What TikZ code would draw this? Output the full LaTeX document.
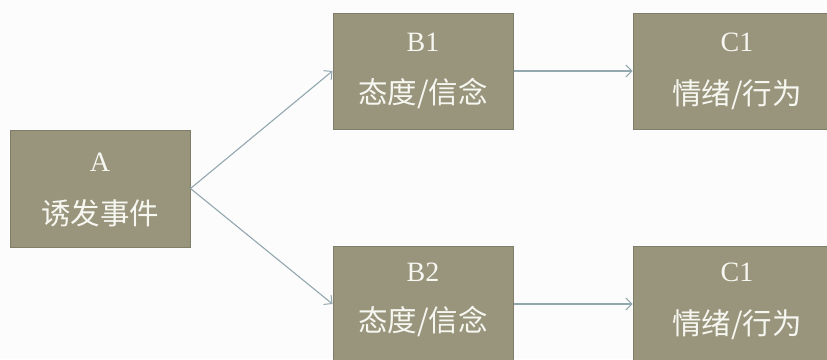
\documentclass[tikz,border=0pt]{standalone}
\usepackage{fontspec}
\setmainfont{Liberation Serif}
\newfontfamily\cjk{Noto Sans CJK SC}
\usetikzlibrary{arrows.meta}
\definecolor{boxfill}{HTML}{99957C}
\definecolor{boxedge}{HTML}{807D68}
\definecolor{arrowc}{HTML}{93A7AF}
\definecolor{txt}{HTML}{F7F7F2}
\tikzset{
  box/.style={draw=boxedge, fill=boxfill, line width=1pt, inner sep=0pt},
  latin/.style={text=txt, font=\fontsize{28}{28}\selectfont, inner sep=0pt},
  hanzi/.style={text=txt, font=\cjk\fontsize{29.5}{29.5}\selectfont, inner sep=0pt},
  conn/.style={draw=arrowc, line width=1.1pt, -{Straight Barb[length=6pt,width=12pt,line width=1pt]}}
}
\begin{document}
\begin{tikzpicture}[x=1pt,y=-1pt]
\fill[white!98!gray] (0,0) rectangle (827,359);
\useasboundingbox (0,0) rectangle (827,359);
\begin{scope}
\clip (0,0) rectangle (827,359);
\node[box, minimum width=180pt, minimum height=117pt] (A) at (100,188.5) {};
\node[box, minimum width=180pt, minimum height=116pt] (B1) at (423,71) {};
\node[box, minimum width=200pt, minimum height=116pt] (C1) at (733,71) {};
\node[box, minimum width=180pt, minimum height=116pt] (B2) at (423,304) {};
\node[box, minimum width=200pt, minimum height=116pt] (C2) at (733,304) {};
\end{scope}
\node[latin] (At) at (100,162) {A};
\node[hanzi] (Ah) at (100,213) {诱发事件};
\node[latin] (B1t) at (423,42) {B1};
\node[hanzi] (B1h) at (423,93) {态度/信念};
\node[latin] (C1t) at (737,42) {C1};
\node[hanzi] (C1h) at (737,95) {情绪/行为};
\node[latin] (B2t) at (423,272) {B2};
\node[hanzi] (B2h) at (423,321) {态度/信念};
\node[latin] (C2t) at (737,272) {C1};
\node[hanzi] (C2h) at (737,325) {情绪/行为};
\draw[conn] (A.east) -- (B1.west);
\draw[conn] (A.east) -- (B2.west);
\draw[conn] (B1.east) -- (C1.west);
\draw[conn] (B2.east) -- (C2.west);
\end{tikzpicture}
\end{document}
